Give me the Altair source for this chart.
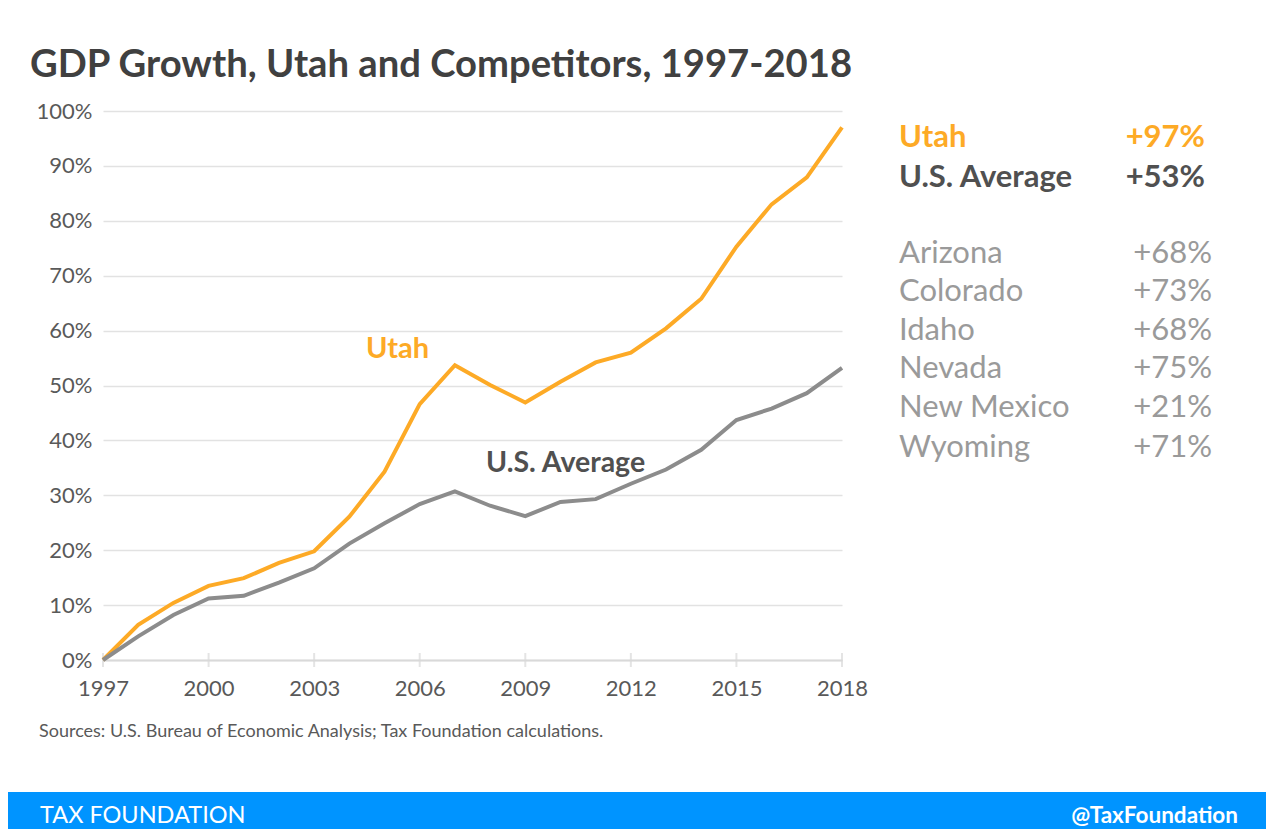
import altair as alt
import pandas as pd

years = list(range(1997, 2019))
utah = [0.0, 6.4, 10.4, 13.5, 14.9, 17.7, 19.8, 26.1, 34.3, 46.6, 53.7,
        50.1, 46.9, 50.7, 54.2, 56.0, 60.4, 65.8, 75.3, 83.0, 87.9, 97.0]
us_avg = [0.0, 4.3, 8.2, 11.2, 11.7, 14.1, 16.7, 21.2, 24.9, 28.4, 30.7,
          28.1, 26.2, 28.8, 29.3, 32.1, 34.7, 38.3, 43.7, 45.8, 48.6, 53.2]
tick_years = [1997, 2000, 2003, 2006, 2009, 2012, 2015, 2018]
y_ticks = [i / 10 for i in range(11)]

states = ["Arizona", "Colorado", "Idaho", "Nevada", "New Mexico", "Wyoming"]
state_growth = ["+68%", "+73%", "+68%", "+75%", "+21%", "+71%"]

FONT = "Lato"
ORANGE = "#FDAA26"
GRAY_LINE = "#8C8C8C"
DARK = "#505050"
LIGHT = "#9A9A9A"

df = pd.DataFrame({
    "year": years * 2,
    "value": [v / 100 for v in utah] + [v / 100 for v in us_avg],
    "series": ["Utah"] * len(years) + ["U.S. Average"] * len(years),
})

W, H = 739, 549

x_scale = alt.Scale(domain=[1997, 2018], nice=False, zero=False)
y_scale = alt.Scale(domain=[0, 1], nice=False)

lines = alt.Chart(df).mark_line(strokeWidth=4, strokeJoin="miter").encode(
    x=alt.X("year:Q", scale=x_scale,
            axis=alt.Axis(values=tick_years, format="d", title=None, grid=False,
                          ticks=False, domain=True, domainColor="#D9D9D9", domainWidth=2,
                          labelFont=FONT, labelFontSize=22, labelColor="#595959",
                          labelPadding=18, labelFlush=False)),
    y=alt.Y("value:Q", scale=y_scale,
            axis=alt.Axis(values=y_ticks, format=".0%", title=None, grid=True,
                          gridColor="#E2E2E2", gridWidth=1.5, ticks=False, domain=False,
                          labelFont=FONT, labelFontSize=22, labelColor="#595959",
                          labelPadding=11)),
    color=alt.Color("series:N", scale=alt.Scale(domain=["Utah", "U.S. Average"],
                                                range=[ORANGE, GRAY_LINE]), legend=None),
    order=alt.Order("year:Q"),
)

ticks = alt.Chart(pd.DataFrame({"year": tick_years})).mark_tick(
    orient="vertical", size=14, thickness=2, color="#D9D9D9"
).encode(x=alt.X("year:Q", scale=x_scale), y=alt.value(H))

def txt(text, x, y, size, color, weight="normal", align="left"):
    return alt.Chart(pd.DataFrame({"t": [text]})).mark_text(
        font=FONT, fontSize=size, color=color, fontWeight=weight, align=align,
        baseline="alphabetic"
    ).encode(text="t:N", x=alt.value(x), y=alt.value(y))

layers = [ticks, lines]
layers.append(txt("GDP Growth, Utah and Competitors, 1997-2018", -73, -34, 38.2, "#404040", "bold"))
layers.append(txt("Utah", 263, 247, 29, ORANGE, "bold"))
layers.append(txt("U.S. Average", 383, 361, 28.5, DARK, "bold"))
layers.append(txt("Utah", 796, 36, 31, ORANGE, "bold"))
layers.append(txt("+97%", 1102, 36, 31, ORANGE, "bold", "right"))
layers.append(txt("U.S. Average", 796, 76, 31, DARK, "bold"))
layers.append(txt("+53%", 1102, 76, 31, DARK, "bold", "right"))
state_y = [152, 190, 229, 267, 306, 346]
for s, g, yy in zip(states, state_growth, state_y):
    layers.append(txt(s, 796, yy, 31, LIGHT))
    layers.append(txt(g, 1109, yy, 31, LIGHT, "normal", "right"))
layers.append(txt("Sources: U.S. Bureau of Economic Analysis; Tax Foundation calculations.",
                  -64, 626, 18, "#595959"))

footer = alt.Chart(pd.DataFrame({"a": [0]})).mark_rect(color="#0094FF").encode(
    x=alt.value(-103), x2=alt.value(1171), y=alt.value(681), y2=alt.value(726))
layers.append(footer)
layers.append(txt("TAX FOUNDATION", -63, 712, 23.5, "white"))
layers.append(txt("@TaxFoundation", 1135, 712, 22.5, "white", "bold", "right"))

chart = alt.layer(*layers).properties(
    width=W, height=H,
    autosize=alt.AutoSizeParams(type="none"),
    padding={"left": 95, "top": 103, "right": 424, "bottom": 169},
    background="white",
).configure_view(stroke=None)

chart.save("out.html", embed_options={"renderer": "svg", "actions": False})
